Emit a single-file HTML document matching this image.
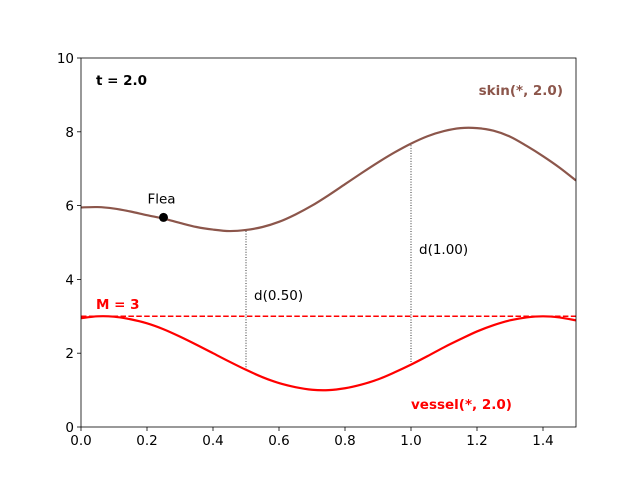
<!DOCTYPE html>
<html><head><meta charset="utf-8"><style>
body{margin:0;background:#fff}
svg text{font-family:"DejaVu Sans","Liberation Sans",sans-serif}
</style></head><body>
<svg id="chart" width="640" height="480" xmlns="http://www.w3.org/2000/svg"></svg>
<script>
const xs=[0,0.05,0.1,0.15,0.2,0.25,0.3,0.35,0.4,0.45,0.5,0.55,0.6,0.65,0.7,0.75,0.8,0.85,0.9,0.95,1.0,1.05,1.1,1.15,1.2,1.25,1.3,1.35,1.4,1.45,1.5];
const vessel=[2.95,3.00,2.99,2.92,2.81,2.65,2.45,2.23,2.00,1.77,1.55,1.35,1.19,1.08,1.01,1.00,1.05,1.15,1.29,1.48,1.69,1.92,2.16,2.38,2.59,2.76,2.89,2.97,3.00,2.97,2.89];
const skin=[5.95,5.96,5.92,5.84,5.74,5.65,5.53,5.42,5.35,5.31,5.34,5.42,5.56,5.76,6.0,6.28,6.58,6.88,7.17,7.44,7.68,7.88,8.02,8.1,8.1,8.03,7.87,7.62,7.34,7.03,6.68];
const xTicks=[0,0.2,0.4,0.6,0.8,1.0,1.2,1.4];
const xTickLabels=["0.0","0.2","0.4","0.6","0.8","1.0","1.2","1.4"];
const yTicks=[0,2,4,6,8,10];
const yTickLabels=["0","2","4","6","8","10"];
const M=3, flea=[0.25,5.68], dPoints=[0.5,1.0], dLabels=["d(0.50)","d(1.00)"];
const X0=81,X1=576,Y0=427,Y1=58;
const sx=v=>X0+(v/1.5)*(X1-X0), sy=v=>Y0-(v/10)*(Y0-Y1);
const svg=document.getElementById('chart');
const NS='http://www.w3.org/2000/svg';
const FS=13.5;
function add(tag,attrs,name,txt){const e=document.createElementNS(NS,tag);for(const k in attrs)e.setAttribute(k,attrs[k]);


if(txt!==undefined)e.textContent=txt;svg.appendChild(e);return e;}
function interp(arr,x){const i=Math.min(Math.floor(x/0.05+1e-9),xs.length-2);const t=(x-xs[i])/0.05;return arr[i]+(arr[i+1]-arr[i])*t;}
function smooth(arr){let d='M'+sx(xs[0])+','+sy(arr[0]);for(let i=0;i<arr.length-1;i++){const p0=[sx(xs[Math.max(i-1,0)]),sy(arr[Math.max(i-1,0)])],p1=[sx(xs[i]),sy(arr[i])],p2=[sx(xs[i+1]),sy(arr[i+1])],p3=[sx(xs[Math.min(i+2,arr.length-1)]),sy(arr[Math.min(i+2,arr.length-1)])];
d+=`C${p1[0]+(p2[0]-p0[0])/6},${p1[1]+(p2[1]-p0[1])/6} ${p2[0]-(p3[0]-p1[0])/6},${p2[1]-(p3[1]-p1[1])/6} ${p2[0]},${p2[1]}`;}return d;}
const cp=add('clipPath',{id:'cl'},'clip');const r=document.createElementNS(NS,'rect');r.setAttribute('x',X0);r.setAttribute('y',Y1);r.setAttribute('width',X1-X0);r.setAttribute('height',Y0-Y1);cp.appendChild(r);
xTicks.forEach((t,i)=>{add('line',{x1:sx(t),x2:sx(t),y1:Y0,y2:Y0+4,stroke:'#000','stroke-width':0.8},'x-tick');
add('text',{x:sx(t),y:Y0+18,'font-size':FS,'text-anchor':'middle'},'x-tick-label',xTickLabels[i]);});
yTicks.forEach((t,i)=>{add('line',{x1:X0-4,x2:X0,y1:sy(t),y2:sy(t),stroke:'#000','stroke-width':0.8},'y-tick');
add('text',{x:X0-7,y:sy(t)+5,'font-size':FS,'text-anchor':'end'},'y-tick-label',yTickLabels[i]);});
dPoints.forEach((p,i)=>{add('line',{x1:sx(p),x2:sx(p),y1:sy(interp(vessel,p)),y2:sy(interp(skin,p)),stroke:'#000','stroke-width':0.8,'stroke-dasharray':'1,1.6'},'distance-line');});
add('text',{x:sx(dPoints[0])+8,y:300,'font-size':FS},'distance-label',dLabels[0]);
add('text',{x:sx(dPoints[1])+8,y:254,'font-size':FS},'distance-label',dLabels[1]);
add('line',{x1:X0,x2:X1,y1:sy(M),y2:sy(M),stroke:'#ff0000','stroke-width':1.5,'stroke-dasharray':'5.5,2.4'},'threshold-line');
add('path',{d:smooth(skin),fill:'none',stroke:'#8c564b','stroke-width':2.2,'clip-path':'url(#cl)'},'skin-curve');
add('path',{d:smooth(vessel),fill:'none',stroke:'#ff0000','stroke-width':2.2,'clip-path':'url(#cl)'},'vessel-curve');
add('circle',{cx:sx(flea[0]),cy:sy(flea[1]),r:4.5,fill:'#000'},'flea-point');
add('text',{x:sx(flea[0])-2,y:sy(flea[1])-14,'font-size':FS,'text-anchor':'middle'},'flea-label','Flea');
add('rect',{x:X0,y:Y1,width:X1-X0,height:Y0-Y1,fill:'none',stroke:'#000','stroke-width':0.8},'plot-frame');
add('text',{x:96,y:85,'font-size':FS,'font-weight':'bold'},'time-label','t = 2.0');
add('text',{x:563,y:95,'font-size':FS,'font-weight':'bold',fill:'#8c564b','text-anchor':'end'},'skin-label','skin(*, 2.0)');
add('text',{x:411,y:409,'font-size':FS,'font-weight':'bold',fill:'#ff0000'},'vessel-label','vessel(*, 2.0)');
add('text',{x:96,y:309,'font-size':FS,'font-weight':'bold',fill:'#ff0000'},'threshold-label','M = 3');
</script>
</body></html>
